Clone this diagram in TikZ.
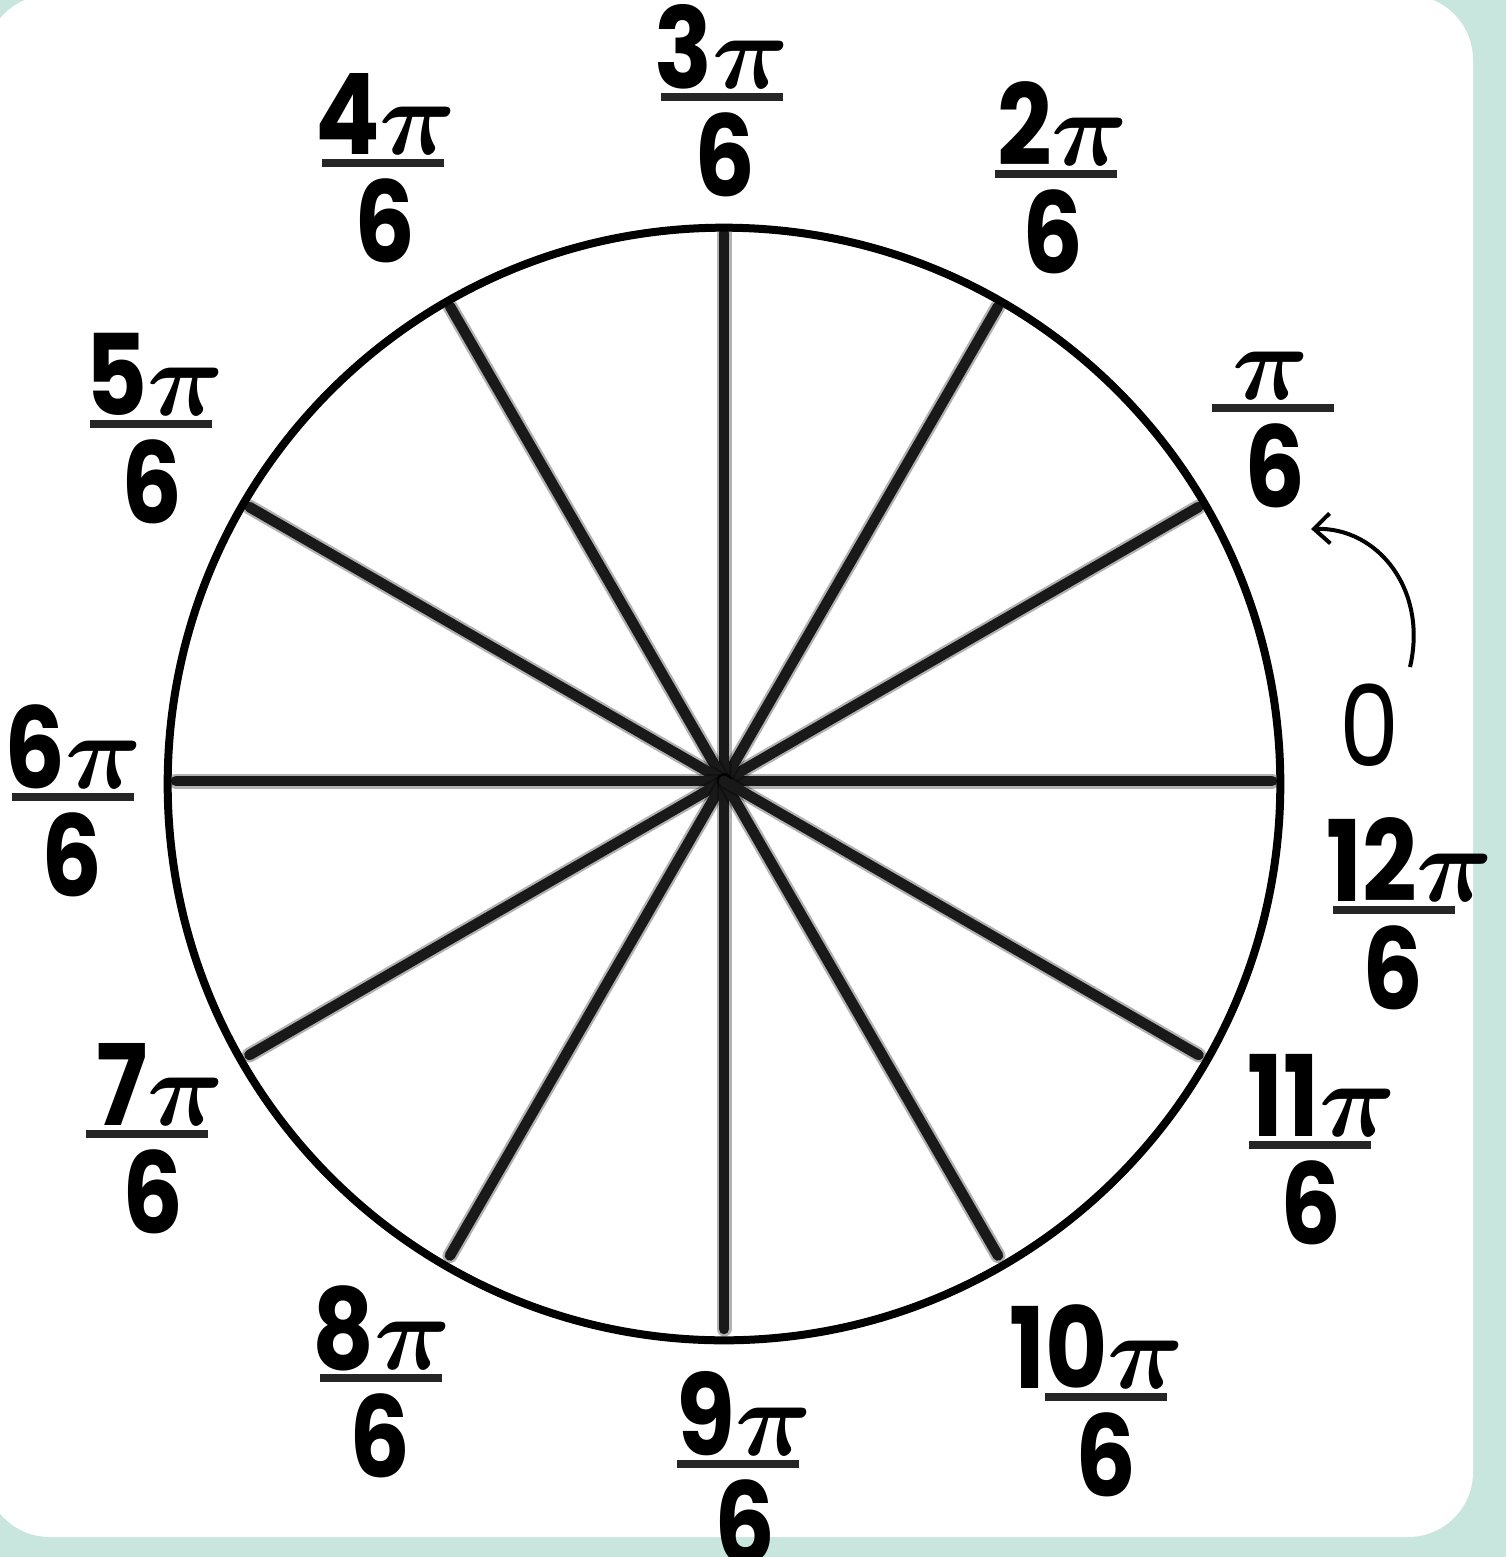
\documentclass[tikz,border=0pt]{standalone}
\usepackage{bm}
\usepackage{graphicx}
\usepackage{fontspec}
\setmainfont{Poppins}[FakeStretch=0.85]
\usetikzlibrary{arrows.meta,calc}
\definecolor{mint}{RGB}{200,230,222}
\newcommand\pii{\scalebox{1.22}{$\bm{\pi}$}}
\newcommand\flabel[6]{%
  \coordinate (#1L) at ({#2-61},#3);
  \coordinate (#1R) at ({#2+61},#3);
  \draw[fbar] (#1L) -- (#1R);
  \node[lab, anchor=base] (#1n) at (#5,{#3-9}) {#4};
  \node[lab, anchor=north] (#1d) at (#6,{#3+15}) {6};
}
\begin{document}
\begin{tikzpicture}[x=0.01cm,y=-0.01cm,
  lab/.style={inner sep=0pt, font=\fontsize{32}{36}\selectfont\bfseries},
  zerolab/.style={inner sep=0pt, font=\fontsize{32}{36}\selectfont},
  fbar/.style={line width=0.08cm, black!85},
  spokehalo/.style={line width=0.15cm, black, opacity=0.3, line cap=round},
  spoke/.style={line width=0.105cm, black!90, line cap=round},
  rim/.style={line width=0.08cm, black},
  arr/.style={line width=0.04cm, black, -{Straight Barb[length=0.16cm,width=0.3cm]}}]
\useasboundingbox (0,0) rectangle (1506,1557);
\clip (0,0) rectangle (1506,1557);
\fill[mint] (0,0) rectangle (1506,1557);
\fill[white, rounded corners=0.65cm] (-15,-5) rectangle (1473,1537);
% spokes
\coordinate (C) at (724,781);
\foreach \a [count=\i] in {0,30,...,330}{
  \coordinate (S\i) at ({724+548*cos(\a)},{781-548*sin(\a)});
  \draw[spokehalo] (C) -- (S\i);
  \draw[spoke] (C) -- (S\i);
}
% rim
\draw[rim] (724,784) circle[radius=5.56cm];
% labels
\flabel{a}{722}{97}{3\pii}{722}{725}
\flabel{b}{1056}{174}{2\pii}{1063}{1053}
\flabel{c}{1273}{408}{\pii}{1271}{1275}
\flabel{d}{1394}{910}{12\pii}{1410}{1393}
\flabel{e}{1310}{1145}{11\pii}{1322}{1311}
\flabel{f}{1106}{1397}{10\pii}{1097}{1106}
\flabel{g}{738}{1464}{9\pii}{744}{745}
\flabel{h}{381}{1378}{8\pii}{382}{380}
\flabel{i}{147}{1134}{7\pii}{160}{153}
\flabel{j}{73}{797}{6\pii}{73}{72}
\flabel{k}{151}{424}{5\pii}{155}{152}
\flabel{l}{383}{163}{4\pii}{386}{385}
% zero and arrow
\node[zerolab] (zero) at (1370,725) {0};
\coordinate (A0) at (1410,667);
\coordinate (A1) at (1311,529);
\draw[arr] (A0) .. controls (1428,590) and (1378,527) .. (A1);
\end{tikzpicture}
\end{document}
